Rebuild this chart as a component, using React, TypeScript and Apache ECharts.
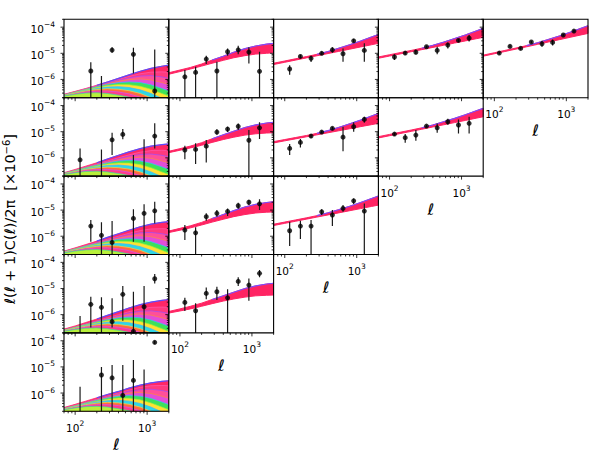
import React, { useEffect, useRef } from "react";
import * as echarts from "echarts";

// ---------- axes / ticks ----------
const X_MIN = 70;
const X_MAX = 2000;
const Y_MIN = 2e-7;
const Y_MAX = 2e-4;
const X_TICK_DECADES = [1, 2, 3];
const Y_TICK_DECADES = [-7, -6, -5, -4];
const MINOR_STEPS = [2, 3, 4, 5, 6, 7, 8, 9];
const X_NAME = "ℓ";

// band-power bin centres
const ELL = [117, 165, 232, 326, 459, 645, 907, 1275];
// multipoles where the model curves were read
const CURVE_ELL = [70, 100, 140, 200, 280, 400, 560, 800, 1130, 1600, 2000];

// ---------- data points (value, lower end, upper end of error bar) ----------
const VAL_00 = [null, 2.1e-6, null, 1.33e-5, null, 9.1e-6, null, 3.6e-7];
const LO_00 = [null, 1e-8, 1e-8, 1.05e-5, null, 1.7e-6, null, 1e-8];
const HI_00 = [null, 4.5e-6, 1.35e-6, 1.7e-5, null, 1.63e-5, null, 1.41e-5];

const VAL_01 = [1.26e-6, 1.86e-6, 6.0e-6, 2.1e-6, 1.15e-5, 1.36e-5, 1.11e-5, 2.04e-6];
const LO_01 = [1e-8, 1e-8, 3.9e-6, 1e-8, 8.1e-6, 9.1e-6, 4.1e-6, 1e-8];
const HI_01 = [2.3e-6, 3.06e-6, 8.1e-6, 4.8e-6, 1.54e-5, 1.94e-5, 1.7e-5, 1.15e-5];

const VAL_02 = [2.5e-6, 7.6e-6, 6.4e-6, 1.0e-5, 1.36e-5, 9.6e-6, 3.0e-5, 1.29e-5];
const LO_02 = [1.5e-6, 6.5e-6, 4.6e-6, 8.6e-6, 1.05e-5, 4.8e-6, 2.6e-5, 4.8e-6];
const HI_02 = [3.5e-6, 8.8e-6, 8.1e-6, 1.16e-5, 1.7e-5, 1.54e-5, 3.5e-5, 2.4e-5];

const VAL_03 = [7.2e-6, 1.02e-5, 1.1e-5, 1.78e-5, 1.29e-5, 2.07e-5, 3.1e-5, 3.8e-5];
const LO_03 = [5.5e-6, 8.8e-6, 9.1e-6, 1.6e-5, 9.1e-6, 1.54e-5, 2.7e-5, 2.8e-5];
const HI_03 = [9.1e-6, 1.18e-5, 1.41e-5, 2.0e-5, 1.78e-5, 2.6e-5, 3.5e-5, 5.0e-5];

const VAL_04 = [1.02e-5, 1.84e-5, 1.54e-5, 2.7e-5, 2.3e-5, 2.6e-5, 5.0e-5, 7.1e-5];
const LO_04 = [9.0e-6, 1.65e-5, 1.38e-5, 2.45e-5, 1.78e-5, 2.0e-5, 4.5e-5, 6.3e-5];
const HI_04 = [1.15e-5, 2.05e-5, 1.72e-5, 3.0e-5, 3.0e-5, 3.4e-5, 5.6e-5, 8.0e-5];

const VAL_10 = [8.4e-7, null, null, 4.9e-6, 7.9e-6, null, null, 6.8e-6];
const LO_10 = [1e-8, null, 1e-8, 1.28e-6, 5.1e-6, 1e-8, 1e-8, 2.3e-6];
const HI_10 = [2.3e-6, null, 2.1e-6, 9.1e-6, 1.26e-5, 1.28e-6, 5.1e-6, 2.09e-5];

const VAL_11 = [2.0e-6, 2.1e-6, 2.8e-6, 9.7e-6, 1.26e-5, 1.6e-5, 4.7e-6, 1.41e-5];
const LO_11 = [8.9e-7, 5.8e-7, 6.7e-7, 7.6e-6, 9.7e-6, 1.16e-5, 1e-8, 5.2e-6];
const HI_11 = [2.9e-6, 3.6e-6, 4.8e-6, 1.23e-5, 1.54e-5, 2.08e-5, 1.16e-5, 2.28e-5];

const VAL_12 = [2.3e-6, 3.9e-6, 6.8e-6, 9.7e-6, 1.34e-5, 6.2e-6, 1.55e-5, 2.96e-5];
const LO_12 = [1.28e-6, 2.5e-6, 5.8e-6, 8.5e-6, 1.18e-5, 1.8e-6, 1.0e-5, 2.2e-5];
const HI_12 = [3.4e-6, 5.2e-6, 7.9e-6, 1.1e-5, 1.52e-5, 1.55e-5, 2.28e-5, 3.7e-5];

const VAL_13 = [8.1e-6, 5.9e-6, 7.4e-6, 1.64e-5, 1.41e-5, 2.4e-5, 1.8e-5, 2.09e-5];
const LO_13 = [7.0e-6, 3.8e-6, 4.5e-6, 1.45e-5, 9.1e-6, 1.84e-5, 8.6e-6, 8.6e-6];
const HI_13 = [9.3e-6, 8.1e-6, 1.16e-5, 1.85e-5, 2.08e-5, 3.1e-5, 2.96e-5, 3.7e-5];

const VAL_20 = [null, 2.45e-6, 1.08e-6, 5.8e-7, null, 4.8e-6, 7.5e-6, 9.4e-6];
const LO_20 = [null, 6.1e-7, 1e-8, 1e-8, null, 6.1e-7, 6.1e-7, 3.1e-6];
const HI_20 = [null, 4.2e-6, 3.4e-6, 3.8e-6, null, 1.07e-5, 1.66e-5, 2.08e-5];

const VAL_21 = [1.72e-6, 1.35e-6, 5.6e-6, 7.5e-6, 8.9e-6, 1.47e-5, 2.0e-5, 1.74e-5];
const LO_21 = [7.1e-7, 1e-8, 3.9e-6, 5.6e-6, 5.9e-6, 1.12e-5, 1.56e-5, 1.0e-5];
const HI_21 = [2.7e-6, 2.2e-6, 7.5e-6, 1.0e-5, 1.16e-5, 1.9e-5, 2.5e-5, 2.58e-5];

const VAL_22 = [1.62e-6, 2.45e-6, 2.45e-6, 8.6e-6, 6.5e-6, 1.16e-5, 2.27e-5, 9.2e-6];
const LO_22 = [4.2e-7, 7.8e-7, 1e-8, 6.5e-6, 2.45e-6, 8.6e-6, 1.7e-5, 1e-8];
const HI_22 = [3.6e-6, 3.9e-6, 4.2e-6, 1.07e-5, 1.0e-5, 1.56e-5, 2.8e-5, 1.8e-5];

const VAL_30 = [null, 2.47e-6, 1.9e-6, 5.4e-7, 6.0e-6, 2.3e-7, 2.0e-6, 2.36e-5];
const LO_30 = [1e-8, 3.2e-7, 1e-8, 3.2e-7, 5.8e-7, 1e-8, 1e-8, 1.57e-5];
const HI_30 = [8.8e-7, 4.8e-6, 4.6e-6, 4.2e-6, 1.24e-5, 7.5e-6, 1.24e-5, 3.6e-5];

const VAL_31 = [2.94e-6, 1.41e-6, 6.5e-6, 7.5e-6, 4.4e-6, 1.87e-5, 1.35e-5, 3.8e-5];
const LO_31 = [1.37e-6, 1e-8, 3.9e-6, 3.6e-6, 1e-8, 1.24e-5, 3.4e-6, 2.67e-5];
const HI_31 = [4.4e-6, 2.7e-6, 1.1e-5, 1.16e-5, 9.3e-6, 2.67e-5, 2.4e-5, 5.1e-5];

const VAL_40 = [null, null, 4.9e-6, 3.8e-6, 8.1e-7, 3.05e-6, null, 8.7e-5];
const LO_40 = [1e-8, null, 1e-8, 1e-8, 1e-8, 1e-8, 1e-8, 7.3e-5];
const HI_40 = [1.74e-6, null, 1.0e-5, 1.17e-5, 1.17e-5, 1.83e-5, 8.0e-6, 1.0e-4];

// ---------- model bands (lower / upper edge at CURVE_ELL) ----------
const BAND_LO_01 = [1.58e-6, 2.0e-6, 2.51e-6, 3.24e-6, 4.17e-6, 5.37e-6, 6.76e-6, 8.13e-6, 9.33e-6, 1.0e-5, 1.05e-5];
const BAND_HI_01 = [1.8e-6, 2.29e-6, 2.88e-6, 3.89e-6, 5.5e-6, 7.76e-6, 1.1e-5, 1.51e-5, 1.91e-5, 2.24e-5, 2.4e-5];
const BAND_LO_02 = [3.72e-6, 4.53e-6, 5.47e-6, 6.67e-6, 8.04e-6, 9.79e-6, 1.18e-5, 1.44e-5, 1.75e-5, 2.12e-5, 2.4e-5];
const BAND_HI_02 = [4.17e-6, 5.08e-6, 6.14e-6, 7.48e-6, 9.14e-6, 1.17e-5, 1.56e-5, 2.13e-5, 2.94e-5, 4.21e-5, 5.25e-5];
const BAND_LO_03 = [6.46e-6, 7.85e-6, 9.46e-6, 1.15e-5, 1.38e-5, 1.68e-5, 2.02e-5, 2.47e-5, 2.98e-5, 3.61e-5, 4.07e-5];
const BAND_HI_03 = [7.24e-6, 8.81e-6, 1.06e-5, 1.29e-5, 1.57e-5, 2.02e-5, 2.67e-5, 3.66e-5, 5.05e-5, 7.19e-5, 8.99e-5];
const BAND_LO_04 = [7.76e-6, 9.59e-6, 1.17e-5, 1.45e-5, 1.77e-5, 2.2e-5, 2.69e-5, 3.33e-5, 4.09e-5, 5.05e-5, 5.75e-5];
const BAND_HI_04 = [8.51e-6, 1.05e-5, 1.29e-5, 1.59e-5, 1.97e-5, 2.55e-5, 3.39e-5, 4.63e-5, 6.41e-5, 9.1e-5, 1.13e-4];
const BAND_LO_11 = [1.58e-6, 1.95e-6, 2.4e-6, 3.02e-6, 3.89e-6, 5.01e-6, 6.17e-6, 7.41e-6, 8.32e-6, 8.91e-6, 9.12e-6];
const BAND_HI_11 = [1.78e-6, 2.24e-6, 2.82e-6, 3.8e-6, 5.37e-6, 7.59e-6, 1.05e-5, 1.45e-5, 1.82e-5, 2.14e-5, 2.29e-5];
const BAND_LO_12 = [3.72e-6, 4.47e-6, 5.31e-6, 6.38e-6, 7.59e-6, 9.12e-6, 1.08e-5, 1.3e-5, 1.56e-5, 1.86e-5, 2.09e-5];
const BAND_HI_12 = [4.17e-6, 5.01e-6, 5.96e-6, 7.16e-6, 8.65e-6, 1.1e-5, 1.46e-5, 2.0e-5, 2.77e-5, 3.98e-5, 5.01e-5];
const BAND_LO_13 = [5.75e-6, 7.01e-6, 8.47e-6, 1.03e-5, 1.24e-5, 1.52e-5, 1.83e-5, 2.23e-5, 2.7e-5, 3.29e-5, 3.72e-5];
const BAND_HI_13 = [6.46e-6, 7.87e-6, 9.51e-6, 1.16e-5, 1.41e-5, 1.81e-5, 2.39e-5, 3.24e-5, 4.46e-5, 6.3e-5, 7.82e-5];
const BAND_LO_21 = [1.38e-6, 1.7e-6, 2.09e-6, 2.69e-6, 3.47e-6, 4.47e-6, 5.62e-6, 6.76e-6, 7.76e-6, 8.32e-6, 8.51e-6];
const BAND_HI_21 = [1.58e-6, 2.0e-6, 2.51e-6, 3.39e-6, 4.79e-6, 6.76e-6, 9.55e-6, 1.32e-5, 1.66e-5, 1.95e-5, 2.09e-5];
const BAND_LO_22 = [2.57e-6, 3.11e-6, 3.72e-6, 4.51e-6, 5.4e-6, 6.55e-6, 7.83e-6, 9.48e-6, 1.14e-5, 1.38e-5, 1.55e-5];
const BAND_HI_22 = [2.88e-6, 3.49e-6, 4.18e-6, 5.06e-6, 6.14e-6, 7.87e-6, 1.04e-5, 1.41e-5, 1.94e-5, 2.76e-5, 3.44e-5];
const BAND_LO_31 = [1.15e-6, 1.38e-6, 1.66e-6, 2.09e-6, 2.63e-6, 3.31e-6, 3.98e-6, 4.68e-6, 5.25e-6, 5.5e-6, 5.62e-6];
const BAND_HI_31 = [1.32e-6, 1.66e-6, 2.09e-6, 2.75e-6, 3.8e-6, 5.25e-6, 7.24e-6, 1.0e-5, 1.26e-5, 1.48e-5, 1.58e-5];

// ---------- auto-spectrum model fans (first column) ----------
const FAN_TOP_0 = [2.7e-7, 3.5e-7, 4.5e-7, 6.0e-7, 8.0e-7, 1.1e-6, 1.5e-6, 2.05e-6, 2.65e-6, 3.2e-6, 3.5e-6];
const FAN_TOP_1 = [2.7e-7, 3.6e-7, 4.8e-7, 6.5e-7, 9.0e-7, 1.25e-6, 1.7e-6, 2.25e-6, 2.8e-6, 3.2e-6, 3.4e-6];
const FAN_TOP_2 = [2.7e-7, 3.6e-7, 4.8e-7, 6.5e-7, 9.0e-7, 1.25e-6, 1.7e-6, 2.3e-6, 2.9e-6, 3.4e-6, 3.6e-6];
const FAN_TOP_3 = [2.8e-7, 3.7e-7, 5.0e-7, 6.8e-7, 9.4e-7, 1.3e-6, 1.8e-6, 2.4e-6, 3.0e-6, 3.5e-6, 3.8e-6];
const FAN_TOP_4 = [2.8e-7, 3.7e-7, 4.9e-7, 6.6e-7, 8.8e-7, 1.15e-6, 1.55e-6, 2.0e-6, 2.45e-6, 2.8e-6, 2.95e-6];
const FAN_ARC_1 = [2.6e-7, 3.4e-7, 4.4e-7, 5.8e-7, 7.6e-7, 1.0e-6, 1.3e-6, 1.65e-6, 1.9e-6, 1.95e-6, 1.9e-6];
const FAN_ARC_2 = [2.6e-7, 3.3e-7, 4.3e-7, 5.6e-7, 7.2e-7, 9.3e-7, 1.15e-6, 1.35e-6, 1.4e-6, 1.25e-6, 1.1e-6];
const FAN_ARC_3 = [2.5e-7, 3.3e-7, 4.2e-7, 5.4e-7, 6.8e-7, 8.4e-7, 9.8e-7, 1.05e-6, 9.6e-7, 7.6e-7, 6.4e-7];
const FAN_ARC_4 = [2.5e-7, 3.2e-7, 4.1e-7, 5.2e-7, 6.4e-7, 7.5e-7, 8.0e-7, 7.6e-7, 6.2e-7, 4.5e-7, 3.6e-7];
const FAN_ARC_5 = [2.5e-7, 3.2e-7, 4.0e-7, 4.9e-7, 5.8e-7, 6.4e-7, 6.3e-7, 5.5e-7, 4.2e-7, 2.9e-7, 2.3e-7];
const FAN_ARC_6 = [2.4e-7, 3.1e-7, 3.8e-7, 4.5e-7, 5.1e-7, 5.3e-7, 4.9e-7, 4.0e-7, 2.9e-7, 1.9e-7, 1.5e-7];
const FAN_ARC_7 = [2.4e-7, 3.0e-7, 3.6e-7, 4.1e-7, 4.4e-7, 4.2e-7, 3.7e-7, 2.9e-7, 2.0e-7, 1.3e-7, 1.0e-7];
const FAN_ARC_8 = [2.3e-7, 2.8e-7, 3.3e-7, 3.6e-7, 3.6e-7, 3.3e-7, 2.8e-7, 2.1e-7, 1.5e-7, 1.0e-7, 8.0e-8];
const FAN_ARC_9 = [2.3e-7, 2.7e-7, 3.0e-7, 3.1e-7, 2.9e-7, 2.5e-7, 2.1e-7, 1.6e-7, 1.1e-7, 8.0e-8, 6.0e-8];
const FAN_ARCS = [FAN_ARC_1, FAN_ARC_2, FAN_ARC_3, FAN_ARC_4, FAN_ARC_5, FAN_ARC_6, FAN_ARC_7, FAN_ARC_8, FAN_ARC_9];
const FAN_FILLS = ["#ff2766", "#ff3a7e", "#ff4f9a", "#e24dd8", "#3ee05a", "#ffe033", "#2ed8e6", "#ff6a3d", "#ff3d8b", "#b8f03a"];
const FAN_LINES = ["#ff2766", "#ff5ab0", "#9b4dff", "#ff8a3d", "#29c7ff", "#9cf03a", "#3db4ff", "#ffd23a", "#d04dff", "#33e0a0"];

const PANELS = [
  { r: 0, c: 0, val: VAL_00, lo: LO_00, hi: HI_00, fan: FAN_TOP_0 },
  { r: 0, c: 1, val: VAL_01, lo: LO_01, hi: HI_01, band: [BAND_LO_01, BAND_HI_01] },
  { r: 0, c: 2, val: VAL_02, lo: LO_02, hi: HI_02, band: [BAND_LO_02, BAND_HI_02] },
  { r: 0, c: 3, val: VAL_03, lo: LO_03, hi: HI_03, band: [BAND_LO_03, BAND_HI_03] },
  { r: 0, c: 4, val: VAL_04, lo: LO_04, hi: HI_04, band: [BAND_LO_04, BAND_HI_04] },
  { r: 1, c: 0, val: VAL_10, lo: LO_10, hi: HI_10, fan: FAN_TOP_1 },
  { r: 1, c: 1, val: VAL_11, lo: LO_11, hi: HI_11, band: [BAND_LO_11, BAND_HI_11] },
  { r: 1, c: 2, val: VAL_12, lo: LO_12, hi: HI_12, band: [BAND_LO_12, BAND_HI_12] },
  { r: 1, c: 3, val: VAL_13, lo: LO_13, hi: HI_13, band: [BAND_LO_13, BAND_HI_13] },
  { r: 2, c: 0, val: VAL_20, lo: LO_20, hi: HI_20, fan: FAN_TOP_2 },
  { r: 2, c: 1, val: VAL_21, lo: LO_21, hi: HI_21, band: [BAND_LO_21, BAND_HI_21] },
  { r: 2, c: 2, val: VAL_22, lo: LO_22, hi: HI_22, band: [BAND_LO_22, BAND_HI_22] },
  { r: 3, c: 0, val: VAL_30, lo: LO_30, hi: HI_30, fan: FAN_TOP_3 },
  { r: 3, c: 1, val: VAL_31, lo: LO_31, hi: HI_31, band: [BAND_LO_31, BAND_HI_31] },
  { r: 4, c: 0, val: VAL_40, lo: LO_40, hi: HI_40, fan: FAN_TOP_4 },
];

// ---------- layout ----------
const FONT = "DejaVu Sans";
const PANEL_W = 104.8;
const PANEL_H = 78.4;
const LEFT0 = 64;
const TOP0 = 19.3;

const powLabel = (v: number) => {
  const lg = Math.log10(v);
  const e = Math.round(lg);
  if (Math.abs(lg - e) > 1e-3) return "";
  return `{b|10}{s|${e < 0 ? "\u2212" + -e : String(e)}}`;
};

const labelRich = {
  b: { fontSize: 10.5, fontFamily: FONT, color: "#000", lineHeight: 14, verticalAlign: "bottom" },
  s: { fontSize: 7.5, fontFamily: FONT, color: "#000", lineHeight: 8, verticalAlign: "top" },
};

function buildOption() {
  const grid: any[] = [];
  const xAxis: any[] = [];
  const yAxis: any[] = [];
  const series: any[] = [];

  PANELS.forEach((p: any, i: number) => {
    const isBottom = p.r + p.c === 4;
    grid.push({ left: LEFT0 + p.c * PANEL_W, top: TOP0 + p.r * PANEL_H, width: PANEL_W, height: PANEL_H, show: false });
    xAxis.push({
      type: "log", gridIndex: i, min: X_MIN, max: X_MAX, logBase: 10,
      axisLine: { show: false }, axisTick: { show: false }, splitLine: { show: false }, minorTick: { show: false },
      axisLabel: { show: isBottom, formatter: powLabel, margin: 8, rich: labelRich },
      name: isBottom ? X_NAME : "", nameLocation: "middle", nameGap: 25,
      nameTextStyle: { fontFamily: FONT, fontSize: 16, fontStyle: "italic", color: "#000" },
    });
    yAxis.push({
      type: "log", gridIndex: i, min: Y_MIN, max: Y_MAX, logBase: 10,
      axisLine: { show: false }, axisTick: { show: false }, splitLine: { show: false }, minorTick: { show: false },
      axisLabel: { show: p.c === 0, formatter: powLabel, margin: 9, rich: labelRich },
    });

    // model curves
    series.push({
      type: "custom", xAxisIndex: i, yAxisIndex: i, clip: true, z: 2, silent: true,
      data: [[X_MIN, Y_MIN]],
      renderItem: (params: any, api: any) => {
        const pts = (vals: number[]) => CURVE_ELL.map((l, k) => api.coord([l, vals[k]]));
        const children: any[] = [];
        if (p.fan) {
          const close = (arr: any[]) => [...arr, api.coord([X_MAX, 1e-9]), api.coord([X_MIN, 1e-9])];
          const top = pts(p.fan);
          children.push({ type: "polygon", shape: { points: close(top) }, style: { fill: FAN_FILLS[0], stroke: FAN_FILLS[0], lineWidth: 0.8 } });
          FAN_ARCS.forEach((arc, k) => {
            children.push({
              type: "polygon", shape: { points: close(pts(arc)) },
              style: { fill: FAN_FILLS[k + 1], stroke: FAN_LINES[k + 1], lineWidth: 0.7 },
            });
          });
          children.push({ type: "polyline", shape: { points: top.slice(3) }, style: { stroke: "#5b4cff", lineWidth: 1.2, fill: null } });
        } else {
          const lo = pts(p.band[0]);
          const hi = pts(p.band[1]);
          children.push({
            type: "polygon", shape: { points: [...hi, ...lo.slice().reverse()] },
            style: { fill: "#ff2463", stroke: "#ff2463", lineWidth: 1 },
          });
          children.push({ type: "polyline", shape: { points: hi.slice(4) }, style: { stroke: "#7a4dff", lineWidth: 1.1, fill: null } });
        }
        return { type: "group", children };
      },
    });

    // error bars
    series.push({
      type: "custom", xAxisIndex: i, yAxisIndex: i, clip: true, z: 4, silent: true,
      data: ELL.map((l, k) => (p.hi[k] == null ? null : [l, p.lo[k], p.hi[k]])).filter((d) => d),
      renderItem: (params: any, api: any) => {
        const a = api.coord([api.value(0), api.value(2)]);
        const b = api.coord([api.value(0), api.value(1)]);
        return { type: "line", shape: { x1: a[0], y1: a[1], x2: b[0], y2: b[1] }, style: { stroke: "#1a1a1a", lineWidth: 1.2 } };
      },
    });

    // markers
    series.push({
      type: "scatter", xAxisIndex: i, yAxisIndex: i, clip: true, z: 5, silent: true,
      symbol: "circle", symbolSize: 5, itemStyle: { color: "#000" },
      data: ELL.map((l, k) => (p.val[k] == null ? null : [l, p.val[k]])).filter((d) => d),
    });

    // frame + ticks
    series.push({
      type: "custom", xAxisIndex: i, yAxisIndex: i, clip: false, z: 10, silent: true,
      data: [[X_MIN, Y_MIN]],
      renderItem: (params: any, api: any) => {
        const tl = api.coord([X_MIN, Y_MAX]);
        const br = api.coord([X_MAX, Y_MIN]);
        const ch: any[] = [
          { type: "rect", shape: { x: tl[0], y: tl[1], width: br[0] - tl[0], height: br[1] - tl[1] }, style: { fill: null, stroke: "#000", lineWidth: 1.1 } },
        ];
        Y_TICK_DECADES.forEach((e) => {
          [1, ...MINOR_STEPS].forEach((m) => {
            const v = m * Math.pow(10, e);
            if (v < Y_MIN * 0.999 || v > Y_MAX * 1.001) return;
            const y = api.coord([X_MIN, v])[1];
            const len = m === 1 ? 3.5 : 2;
            ch.push({ type: "line", shape: { x1: tl[0] - len, y1: y, x2: tl[0], y2: y }, style: { stroke: "#000", lineWidth: 0.8 } });
          });
        });
        X_TICK_DECADES.forEach((e) => {
          [1, ...MINOR_STEPS].forEach((m) => {
            const v = m * Math.pow(10, e);
            if (v < X_MIN * 0.999 || v > X_MAX * 1.001) return;
            const x = api.coord([v, Y_MIN])[0];
            const len = m === 1 ? 3.5 : 2;
            ch.push({ type: "line", shape: { x1: x, y1: br[1], x2: x, y2: br[1] + len }, style: { stroke: "#000", lineWidth: 0.8 } });
          });
        });
        return { type: "group", children: ch };
      },
    });
  });

  return {
    animation: false,
    backgroundColor: "#fff",
    grid, xAxis, yAxis, series,
    graphic: [
      {
        type: "text", x: 10, y: 219, rotation: Math.PI / 2, silent: true,
        style: {
          text: "{i|ℓ}({i|ℓ} + 1)C({i|ℓ})/2π  [×10{s|\u22126}]",
          fontFamily: FONT, fontSize: 14.5, fill: "#000", align: "center", verticalAlign: "middle", lineHeight: 18,
          rich: {
            i: { fontFamily: FONT, fontSize: 14.5, fontStyle: "italic", fill: "#000", lineHeight: 18 },
            s: { fontFamily: FONT, fontSize: 10, fill: "#000", verticalAlign: "top", lineHeight: 10 },
          },
        },
      },
    ],
  };
}

export default function App() {
  const ref = useRef<HTMLDivElement>(null);
  useEffect(() => {
    if (!ref.current) return;
    const chart = echarts.init(ref.current, undefined, { renderer: "svg" });
    chart.setOption(buildOption() as any);
    return () => chart.dispose();
  }, []);
  return <div ref={ref} style={{ position: "fixed", left: 0, top: 0, width: 598, height: 455 }} />;
}
